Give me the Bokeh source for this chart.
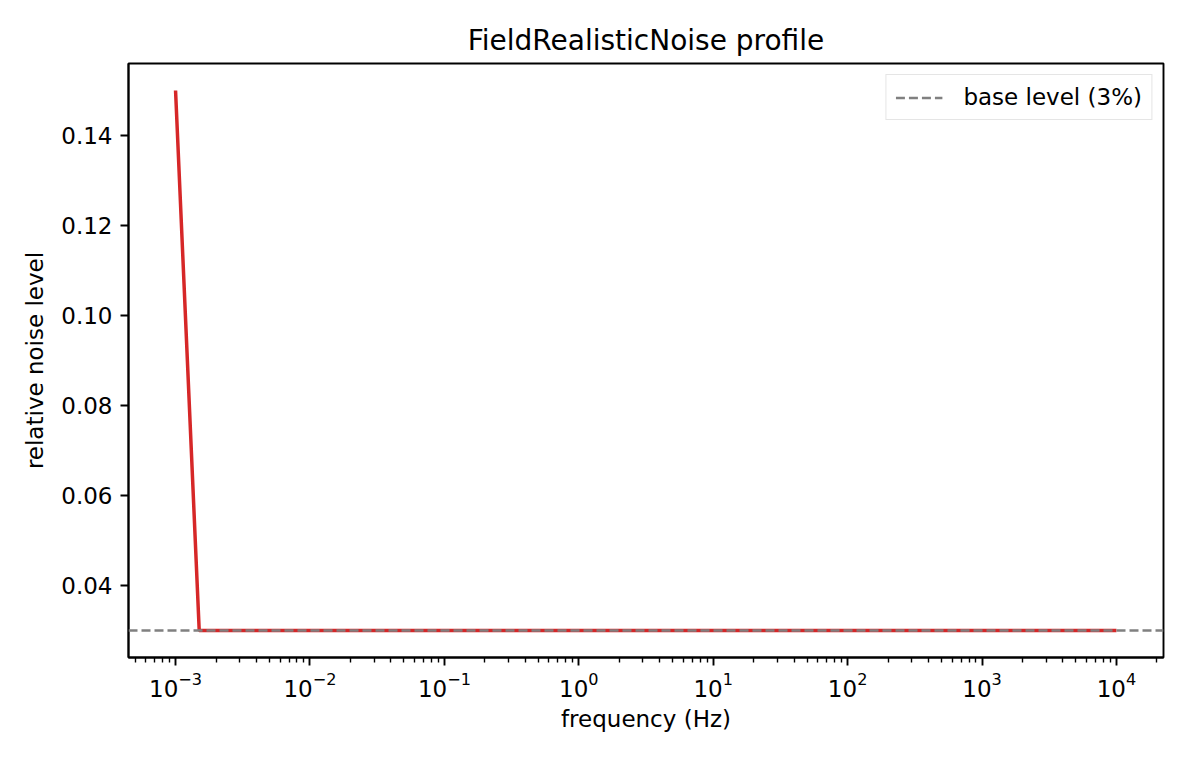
from bokeh.plotting import figure
from bokeh.models import Range1d, Span, FixedTicker, Legend, LegendItem
from bokeh.embed import file_html
from bokeh.resources import INLINE

# data
freq_hz = [1e-3, 1.5e-3, 1e4]
noise_level = [0.15, 0.03, 0.03]
base_level = 0.03
x_major = [1e-3, 1e-2, 1e-1, 1e0, 1e1, 1e2, 1e3, 1e4]
y_ticks = [0.04, 0.06, 0.08, 0.10, 0.12, 0.14]
y_labels = ["0.04", "0.06", "0.08", "0.10", "0.12", "0.14"]

x_minor = [m * 10.0 ** k for k in range(-4, 5) for m in range(2, 10)]

FONT = "DejaVu Sans"

p = figure(width=1174, height=749, output_backend="svg", toolbar_location=None,
           x_axis_type="log",
           x_range=Range1d(10 ** -3.35, 10 ** 4.35),
           y_range=Range1d(0.024, 0.156),
           min_border_left=128, min_border_right=11,
           min_border_top=63, min_border_bottom=92,
           title="FieldRealisticNoise profile")

p.title.align = "center"
p.title.text_font = FONT
p.title.text_font_size = "28px"
p.title.text_font_style = "normal"
p.title.text_color = "black"
p.title.standoff = 13

p.grid.visible = False
p.outline_line_color = "black"
p.outline_line_width = 1.9
p.background_fill_color = "white"
p.border_fill_color = "white"

p.line(freq_hz, noise_level, line_color="#d62728", line_width=3.5)

span = Span(location=base_level, dimension="width", line_color="gray",
            line_width=2.4, line_dash="9 4")
p.add_layout(span)
# single-point renderer (draws nothing) used only for the legend entry
legend_line = p.line(x=[freq_hz[-1]], y=[base_level], line_color="gray",
                     line_width=2.4, line_dash="9 4")

legend = Legend(items=[LegendItem(label="base level (3%)", renderers=[legend_line])],
                location="top_right")
legend.label_text_font = FONT
legend.label_text_font_size = "23px"
legend.label_text_color = "black"
legend.border_line_color = "#cccccc"
legend.border_line_width = 1.9
legend.background_fill_alpha = 0.8
legend.margin = 11
legend.padding = 9
legend.glyph_width = 47
legend.glyph_height = 25
legend.label_standoff = 21
p.add_layout(legend)

p.xaxis.ticker = FixedTicker(ticks=x_major, minor_ticks=x_minor)
p.yaxis.ticker = FixedTicker(ticks=y_ticks)
p.yaxis.major_label_overrides = {t: l for t, l in zip(y_ticks, y_labels)}

for ax in p.axis:
    ax.axis_line_color = "black"
    ax.axis_line_width = 1.9
    ax.major_tick_line_width = 1.9
    ax.major_tick_in = 0
    ax.major_tick_out = 8
    ax.minor_tick_line_width = 1.4
    ax.minor_tick_in = 0
    ax.minor_tick_out = 5
    ax.major_label_text_font = FONT
    ax.major_label_text_font_size = "23px"
    ax.major_label_text_color = "black"
    ax.major_label_standoff = 8
    ax.axis_label_text_font = FONT
    ax.axis_label_text_font_size = "23px"
    ax.axis_label_text_font_style = "normal"
    ax.axis_label_text_color = "black"
    ax.axis_label_standoff = 10

p.xaxis.major_label_standoff = 6
p.xaxis.axis_label_standoff = 6
p.yaxis.minor_tick_line_color = None
p.xaxis.axis_label = "frequency (Hz)"
p.yaxis.axis_label = "relative noise level"

open("out.html", "w").write(file_html(p, INLINE))
